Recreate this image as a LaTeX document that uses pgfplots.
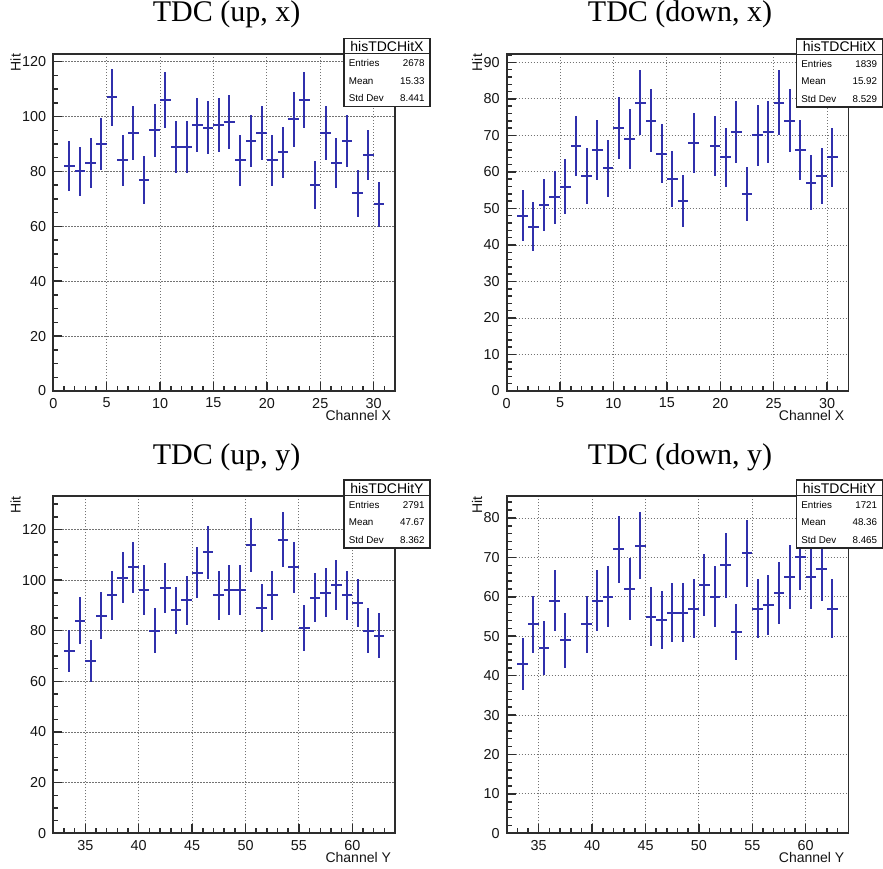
\documentclass[border=0pt]{standalone}
\usepackage{fontspec}
\setmainfont{Liberation Serif}
\newfontfamily\hv{Liberation Sans}
\usepackage{pgfplots}
\usepackage{pgfplotstable}
\pgfplotsset{compat=1.18}
\definecolor{histblue}{RGB}{48,48,172}
\definecolor{framec}{RGB}{45,45,45}

\pgfplotstableread{
x y
1.5 82
2.5 80
3.5 83
4.5 90
5.5 107
6.5 84
7.5 94
8.5 77
9.5 95
10.5 106
11.5 89
12.5 89
13.5 97
14.5 96
15.5 97
16.5 98
17.5 84
18.5 91
19.5 94
20.5 84
21.5 87
22.5 99
23.5 106
24.5 75
25.5 94
26.5 83
27.5 91
28.5 72
29.5 86
30.5 68
}\upx

\pgfplotstableread{
x y
1.5 48
2.5 45
3.5 51
4.5 53
5.5 56
6.5 67
7.5 59
8.5 66
9.5 61
10.5 72
11.5 69
12.5 79
13.5 74
14.5 65
15.5 58
16.5 52
17.5 68
19.5 67
20.5 64
21.5 71
22.5 54
23.5 70
24.5 71
25.5 79
26.5 74
27.5 66
28.5 57
29.5 59
30.5 64
}\downx

\pgfplotstableread{
x y
33.5 72
34.5 84
35.5 68
36.5 86
37.5 94
38.5 101
39.5 105
40.5 96
41.5 80
42.5 97
43.5 88
44.5 92
45.5 103
46.5 111
47.5 94
48.5 96
49.5 96
50.5 114
51.5 89
52.5 94
53.5 116
54.5 105
55.5 81
56.5 93
57.5 95
58.5 98
59.5 94
60.5 91
61.5 80
62.5 78
}\upy

\pgfplotstableread{
x y
33.5 43
34.5 53
35.5 47
36.5 59
37.5 49
39.5 53
40.5 59
41.5 60
42.5 72
43.5 62
44.5 73
45.5 55
46.5 54
47.5 56
48.5 56
49.5 57
50.5 63
51.5 60
52.5 68
53.5 51
54.5 71
55.5 57
56.5 58
57.5 61
58.5 65
59.5 70
60.5 65
61.5 67
62.5 57
}\downy

\pgfplotsset{
  rootstyle/.style={
    scale only axis, width=170.85pt, height=168.5pt,
    axis line style={line width=0.9pt, draw=framec},
    tick align=inside, xtick pos=bottom, ytick pos=left,
    major tick length=4.5pt, minor tick length=2.5pt,
    every tick/.style={line width=0.75pt, draw=framec},
    grid=major,
    major grid style={line width=0.45pt, draw=black!55, dash pattern=on 0.6pt off 0.9pt},
    /pgf/number format/assume math mode=true,
    tick label style={font=\hv\fontsize{7.2}{8}\selectfont, text=black!92},
    title style={font=\fontsize{15}{16}\selectfont, at={(rel axis cs:0.5,1)}, anchor=base, yshift=10pt, xshift=1.25pt},
    xlabel style={font=\hv\fontsize{7}{8}\selectfont, text=black!92, at={([xshift=1.5pt,yshift=-12pt]rel axis cs:1,0)}, anchor=east},
    ylabel={Hit},
  },
  ylabA/.style={ylabel style={font=\hv\fontsize{7}{8}\selectfont, text=black!92, at={([xshift=-18.9pt,yshift=3.5pt]rel axis cs:0,1)}, anchor=east}},
  ylabB/.style={ylabel style={font=\hv\fontsize{7}{8}\selectfont, text=black!92, at={([xshift=-14.85pt,yshift=3.5pt]rel axis cs:0,1)}, anchor=east}},
  histerr/.style={draw=none, mark=none, forget plot,
    error bars/.cd, x dir=both, x explicit, y dir=both, y explicit, error mark=none,
    error bar style={draw=histblue, line width=1pt, solid}},
}

\newcommand{\statbox}[6]{%
\begin{scope}[x=0.5pt, y=-0.5pt, shift={(0pt,434pt)}]
  \fill[white] (#1,#2) rectangle ++(86,68);
  \draw[line width=0.75pt, draw=black!85] (#1,#2) rectangle ++(86,68);
  \draw[line width=0.65pt, draw=black!85] (#1,#2+15.5) -- ++(86,0);
  \node[font=\hv\fontsize{7}{8}\selectfont, inner sep=0pt] at (#1+43,#2+8) {#3};
  \node[font=\hv\fontsize{4.9}{5}\selectfont, anchor=west, inner sep=0pt] at (#1+4.5,#2+25) {Entries};
  \node[font=\hv\fontsize{4.9}{5}\selectfont, anchor=west, inner sep=0pt] at (#1+4.5,#2+42.4) {Mean};
  \node[font=\hv\fontsize{4.9}{5}\selectfont, anchor=west, inner sep=0pt] at (#1+4.5,#2+59.7) {Std Dev};
  \node[font=\hv\fontsize{4.9}{5}\selectfont, anchor=east, inner sep=0pt] at (#1+81,#2+25) {#4};
  \node[font=\hv\fontsize{4.9}{5}\selectfont, anchor=east, inner sep=0pt] at (#1+81,#2+42.4) {#5};
  \node[font=\hv\fontsize{4.9}{5}\selectfont, anchor=east, inner sep=0pt] at (#1+81,#2+59.7) {#6};
\end{scope}}

\begin{document}
\begin{tikzpicture}
\path[use as bounding box] (0pt,0pt) rectangle (441.5pt,434pt);

% top left
\begin{axis}[rootstyle, ylabA, at={(26.65pt,238.5pt)}, anchor=south west,
  title={TDC (up, x)}, xlabel={Channel X},
  xmin=0, xmax=32, ymin=0, ymax=122.8,
  xtick={0,5,...,30}, minor xtick={0,...,32},
  ytick={0,20,...,120}, minor ytick={0,5,...,120}]
\addplot[histerr] table[x=x, y=y, x error expr={0.5}, y error expr={sqrt(\thisrow{y})}] {\upx};
\end{axis}

% top right
\begin{axis}[rootstyle, ylabB, at={(253.35pt,238.5pt)}, anchor=south west,
  title={TDC (down, x)}, xlabel={Channel X},
  xmin=0, xmax=32, ymin=0, ymax=92.3,
  xtick={0,5,...,30}, minor xtick={0,...,32},
  ytick={0,10,...,90}, minor ytick={0,2,...,92}]
\addplot[histerr] table[x=x, y=y, x error expr={0.5}, y error expr={sqrt(\thisrow{y})}] {\downx};
\end{axis}

% bottom left
\begin{axis}[rootstyle, ylabA, at={(26.65pt,17.35pt)}, anchor=south west,
  title={TDC (up, y)}, xlabel={Channel Y},
  xmin=32, xmax=64, ymin=0, ymax=133.1,
  xtick={35,40,...,60}, minor xtick={32,...,64},
  ytick={0,20,...,120}, minor ytick={0,5,...,130}]
\addplot[histerr] table[x=x, y=y, x error expr={0.5}, y error expr={sqrt(\thisrow{y})}] {\upy};
\end{axis}

% bottom right
\begin{axis}[rootstyle, ylabB, at={(253.35pt,17.35pt)}, anchor=south west,
  title={TDC (down, y)}, xlabel={Channel Y},
  xmin=32, xmax=64, ymin=0, ymax=85.5,
  xtick={35,40,...,60}, minor xtick={32,...,64},
  ytick={0,10,...,80}, minor ytick={0,2,...,84}]
\addplot[histerr] table[x=x, y=y, x error expr={0.5}, y error expr={sqrt(\thisrow{y})}] {\downy};
\end{axis}

\statbox{344}{38.3}{hisTDCHitX}{2678}{15.33}{8.441}
\statbox{796.5}{39}{hisTDCHitX}{1839}{15.92}{8.529}
\statbox{344}{480}{hisTDCHitY}{2791}{47.67}{8.362}
\statbox{796.5}{480}{hisTDCHitY}{1721}{48.36}{8.465}
\end{tikzpicture}
\end{document}
